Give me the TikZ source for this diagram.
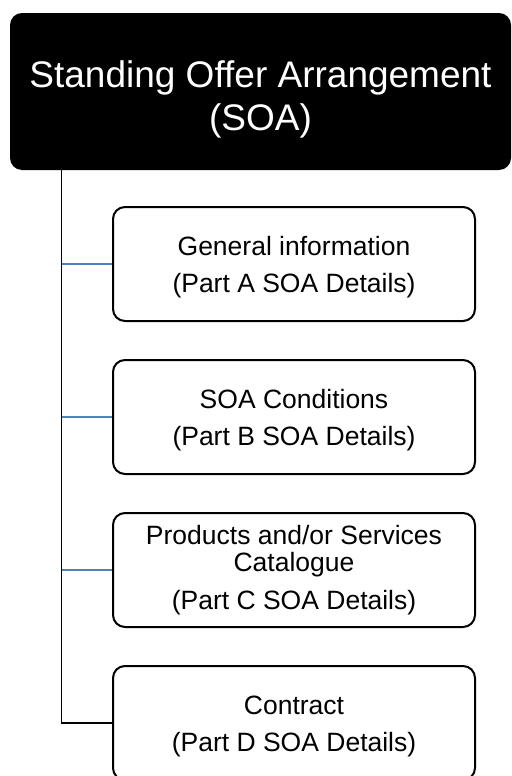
\documentclass[tikz,border=0pt]{standalone}
\usepackage{fontspec}
\setmainfont{Liberation Sans}
\usepackage{xcolor}
\usetikzlibrary{positioning}
\definecolor{linkblue}{HTML}{4F81BD}

\begin{document}
\begin{tikzpicture}[x=0.5pt, y=0.5pt,
    part/.style={draw, line width=1pt, rounded corners=6pt, fill=white,
                 minimum width=181pt, minimum height=57pt, align=center,
                 font=\fontsize{13.25}{13.5}\selectfont},
    link/.style={draw=linkblue, line width=0.8pt}]
        \useasboundingbox (0,0) rectangle (512,-776);
        % Root
        \node[fill=black, rounded corners=6pt, minimum width=250.5pt,
              minimum height=78.5pt, align=center, text=white,
              font=\fontsize{18.5}{21.5}\selectfont] (soa) at (260.5,-91.5)
              {\rule{0pt}{21pt}Standing Offer Arrangement\\(SOA)};
        % Parts
        \node[part] (partA) at (294,-264)
              {\rule{0pt}{12.5pt}General information\\[5pt](Part A SOA Details)};
        \node[part, below=18.5pt of partA] (partB)
              {\rule{0pt}{12.5pt}SOA Conditions\\[5pt](Part B SOA Details)};
        \node[part, below=18.5pt of partB] (partC)
              {Products and/or Services\\Catalogue\\[5.5pt](Part C SOA Details)};
        \node[part, below=18.5pt of partC] (partD)
              {\rule{0pt}{12.5pt}Contract\\[5pt](Part D SOA Details)};

        % Trunk
        \coordinate[right=26pt of soa.south west] (trunk);
        \draw[line width=0.8pt] (trunk) |- (partD.west);
        % Branches
        \draw[link] (trunk |- partA.west) -- (partA.west);
        \draw[link] (trunk |- partB.west) -- (partB.west);
        \draw[link] (trunk |- partC.west) -- (partC.west);
    \end{tikzpicture}
\end{document}
